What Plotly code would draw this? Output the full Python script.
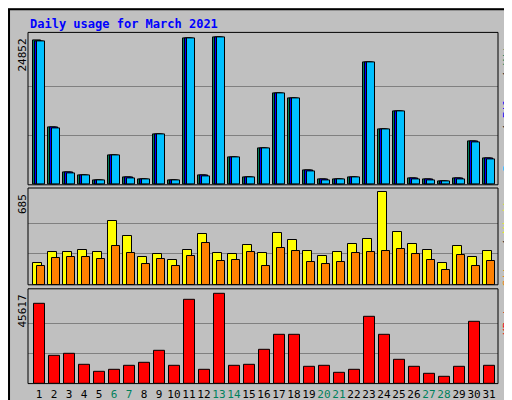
import plotly.graph_objects as go

days = list(range(1, 32))
weekend = {6, 7, 13, 14, 20, 21, 27, 28}
hits = [24347, 9728, 2137, 1631, 787, 5004, 1293, 956, 8547, 787, 24741, 1631, 24852, 4667, 1293,
        6185, 15463, 14620, 2474, 956, 956, 1293, 20693, 9390, 12427, 1125, 956, 619, 1125, 7366, 4498]
files = [24260, 9610, 2050, 1600, 760, 5004, 1180, 930, 8520, 760, 24710, 1520, 24830, 4640, 1265,
         6157, 15435, 14592, 2360, 840, 930, 1265, 20665, 9362, 12400, 1010, 840, 590, 1010, 7250, 4385]
pages = [24179, 9503, 1968, 1574, 731, 5004, 1068, 900, 8491, 731, 24685, 1406, 24800, 4611, 1237,
         6129, 15407, 14564, 2249, 731, 900, 1237, 20636, 9334, 12371, 900, 731, 562, 900, 7141, 4273]
visits = [158, 240, 240, 255, 240, 470, 359, 203, 225, 181, 255, 373, 232, 225, 292,
          232, 381, 329, 247, 210, 240, 299, 336, 685, 388, 299, 255, 158, 284, 203, 247]
sites = [136, 195, 203, 203, 188, 284, 232, 151, 188, 143, 210, 307, 173, 181, 240,
         136, 270, 247, 166, 151, 166, 232, 240, 247, 262, 225, 181, 106, 218, 136, 173]
kbytes = [40127, 14153, 15152, 9657, 6161, 7160, 9158, 10656, 16650, 9158, 42624, 7160, 45617, 9158, 9657,
          17150, 24642, 24642, 8658, 9158, 5661, 7160, 33633, 24642, 12155, 8658, 5162, 3663, 8658, 31136, 9158]

G = "#C0C0C0"
ln = dict(color="black", width=1)
fig = go.Figure()
def bar(y, color, off, w, ax):
    fig.add_trace(go.Bar(x=days, y=y, marker=dict(color=color, line=ln), offset=off, width=w,
                         xaxis="x" + ax, yaxis="y" + ax, showlegend=False))
bar(hits, "#00805C", -0.38, 0.49, "")
bar(files, "#0000FF", -0.25, 0.49, "")
bar(pages, "#00C0FF", -0.11, 0.49, "")
bar(visits, "#FFFF00", -0.38, 0.56, "2")
bar(sites, "#FF8000", -0.11, 0.49, "2")
bar(kbytes, "#FF0000", -0.31, 0.69, "3")

mono = "DejaVu Sans Mono"
ticktext = [f"<span style='color:#00805C'>{d}</span>" if d in weekend else str(d) for d in days]
xr = [0.27, 31.6]
xcommon = dict(range=xr, domain=[20/512, 490/512], showgrid=False, zeroline=False, fixedrange=True,
               automargin=False)
def yax(mx, dom, top):
    return dict(range=[0, top], domain=dom, tickvals=[mx/3, 2*mx/3], showticklabels=False,
                gridcolor="#808080", gridwidth=1, zeroline=False, ticks="", automargin=False)
fig.update_layout(
    width=512, height=400, margin=dict(l=0, r=0, t=0, b=0, autoexpand=False),
    paper_bgcolor=G, plot_bgcolor=G, barmode="overlay", bargap=0,
    font=dict(family=mono, size=11, color="black"),
    xaxis=dict(**xcommon, anchor="y", showticklabels=False),
    xaxis2=dict(**xcommon, anchor="y2", showticklabels=False),
    xaxis3=dict(**xcommon, anchor="y3", tickvals=days, ticktext=ticktext, ticks="", tickangle=0,
                tickfont=dict(family=mono, size=11), ticklabelstandoff=2),
    yaxis=yax(max(hits), [0.558, 0.939], max(hits) * 1.034),
    yaxis2=yax(max(visits), [0.308, 0.55], max(visits) * 1.047),
    yaxis3=yax(max(kbytes), [0.061, 0.298], max(kbytes) * 1.051),
)
shapes = [dict(type="rect", xref="paper", yref="paper", x0=0.002, x1=0.998, y0=0.003, y1=0.997,
               line=dict(color="black", width=2))]
for d in ([0.558, 0.939], [0.308, 0.55], [0.061, 0.298]):
    shapes.append(dict(type="rect", xref="paper", yref="paper", x0=20/512, x1=490/512, y0=d[0], y1=d[1],
                       line=dict(color="black", width=1)))
fig.update_layout(shapes=shapes)
anns = [
    dict(x=20/512, y=1-16/400, text="<b>Daily usage for March 2021</b>", showarrow=False,
         xanchor="left", yanchor="middle", font=dict(family=mono, size=12, color="#0000FF")),
    dict(x=14/512, y=1-29/400, text=f"{max(hits)}", textangle=-90, yanchor="top"),
    dict(x=14/512, y=1-184/400, text=f"{max(visits)}", textangle=-90, yanchor="top"),
    dict(x=14/512, y=1-285/400, text=f"{max(kbytes)}", textangle=-90, yanchor="top"),
    dict(x=499/512, y=1-29/400, yanchor="top",
         text="<span style='color:#00C0FF'>Pages</span> / <span style='color:#0000FF'>Files</span> / <span style='color:#00805C'>Hits</span>",
         textangle=-90),
    dict(x=499/512, y=1-184/400, yanchor="top",
         text="<span style='color:#FF8000'>Sites</span> / <span style='color:#FFFF00'>Visits</span>",
         textangle=-90),
    dict(x=499/512, y=1-285/400, yanchor="top",
         text="<span style='color:#FF0000'>KBytes</span>", textangle=-90),
]
for a in anns:
    a.setdefault("showarrow", False)
    a.setdefault("xanchor", "center")
    a.setdefault("font", dict(family=mono, size=11, color="black"))
    a["xref"] = "paper"; a["yref"] = "paper"
fig.update_layout(annotations=anns)
fig.write_html("out.html", config={"displayModeBar": False})
